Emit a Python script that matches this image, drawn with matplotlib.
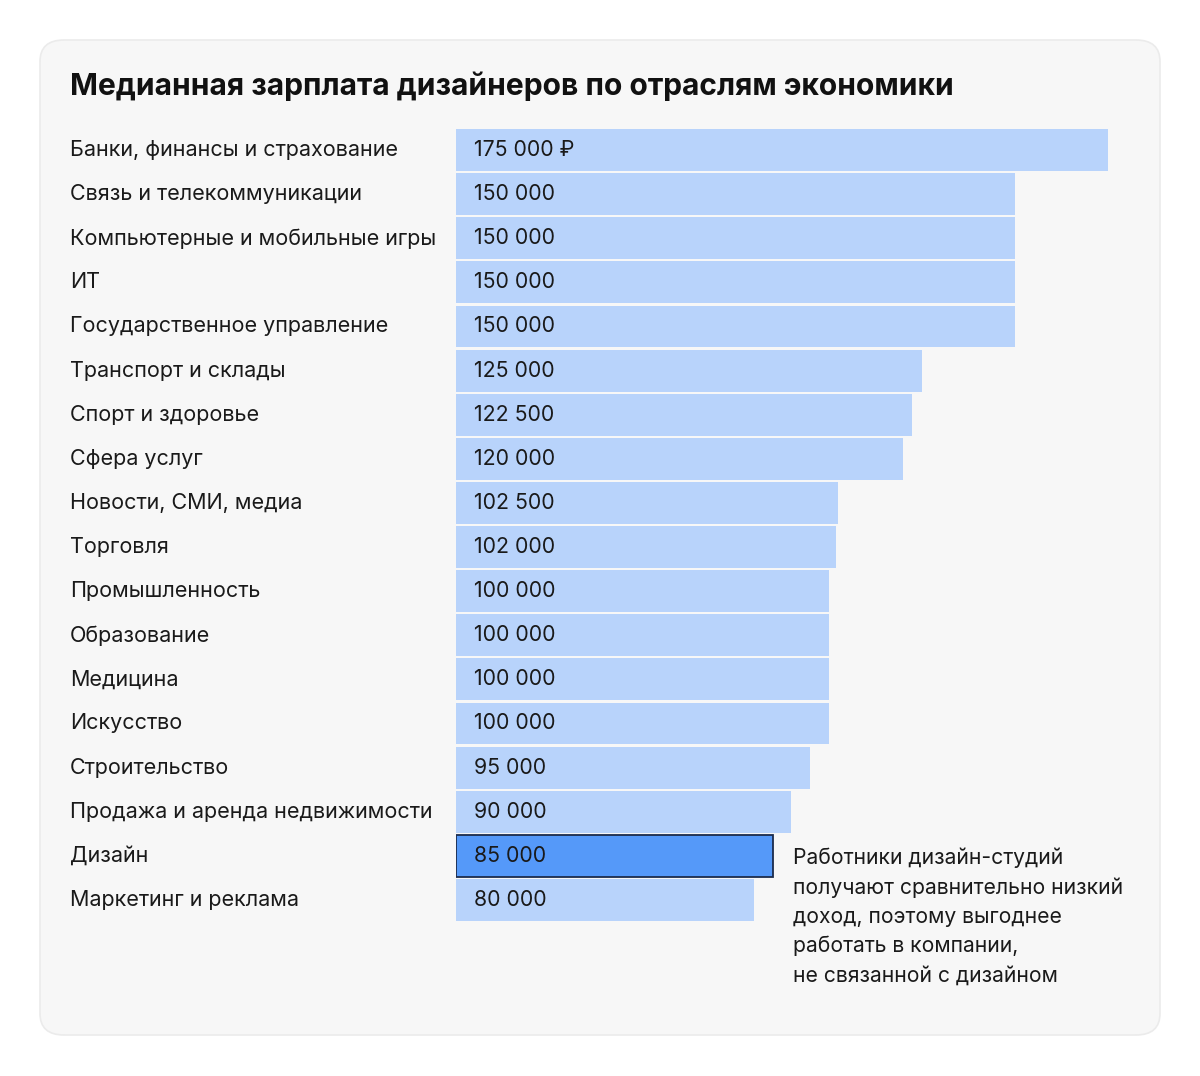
import matplotlib.pyplot as plt
import matplotlib.transforms as mtransforms
from matplotlib.patches import FancyBboxPatch

# data
categories = ['Банки, финансы и страхование', 'Связь и телекоммуникации',
              'Компьютерные и мобильные игры', 'ИТ', 'Государственное управление',
              'Транспорт и склады', 'Спорт и здоровье', 'Сфера услуг',
              'Новости, СМИ, медиа', 'Торговля', 'Промышленность', 'Образование',
              'Медицина', 'Искусство', 'Строительство',
              'Продажа и аренда недвижимости', 'Дизайн', 'Маркетинг и реклама']
salaries = [175000, 150000, 150000, 150000, 150000, 125000, 122500, 120000,
            102500, 102000, 100000, 100000, 100000, 100000, 95000, 90000,
            85000, 80000]
highlight = 'Дизайн'
title = 'Медианная зарплата дизайнеров по отраслям экономики'
note = ('Работники дизайн-студий\nполучают сравнительно низкий\n'
        'доход, поэтому выгоднее\nработать в компании,\nне связанной с дизайном')

plt.rcParams['font.family'] = ['Inter', 'DejaVu Sans']

W, H = 1200, 1076
fig = plt.figure(figsize=(W / 100, H / 100), dpi=100)
fig.patch.set_facecolor('white')

# card background, drawn below the axes
card = FancyBboxPatch((40 / W, 1 - 1035 / H), 1120 / W, 995 / H,
                      boxstyle='round,pad=0,rounding_size=0.02',
                      transform=fig.transFigure, facecolor='#f7f7f7',
                      edgecolor='#ebebeb', linewidth=1.2, zorder=-5)
fig.patches.append(card)

fig.text(70 / W, 1 - 86 / H, title, fontsize=21.6, fontweight='bold',
         va='center', ha='left', color='#111111')

ax = fig.add_axes([456 / W, 1 - 922 / H, 652 / W, 794 / H])
ax.set_facecolor('none')
n = len(categories)
ys = list(range(n))
colors = ['#5599f9' if c == highlight else '#b8d3fb' for c in categories]
edges = ['#1c2c4c' if c == highlight else 'none' for c in categories]
ax.barh(ys, salaries, height=0.95, color=colors, edgecolor=edges,
        linewidth=1.3, zorder=2)
ax.set_xlim(0, max(salaries))
ax.set_ylim(n - 0.5, -0.5)
ax.axis('off')

lab_tr = mtransforms.blended_transform_factory(fig.transFigure, ax.transData)
for i, (c, v) in enumerate(zip(categories, salaries)):
    s = f'{v:,}'.replace(',', ' ')
    if i == 0:
        s += ' ₽'
    ax.text(4800, i, s, va='center', ha='left', fontsize=15.3, color='#1a1a1a', zorder=3)
    ax.text(70 / W, i, c, transform=lab_tr, va='center', ha='left',
            fontsize=15.5, color='#1a1a1a', clip_on=False)

fig.text(793 / W, 1 - 848 / H, note, fontsize=15.2, va='top', ha='left',
         color='#1a1a1a', linespacing=1.55)

fig.savefig('out.png', dpi=100, facecolor='white')
